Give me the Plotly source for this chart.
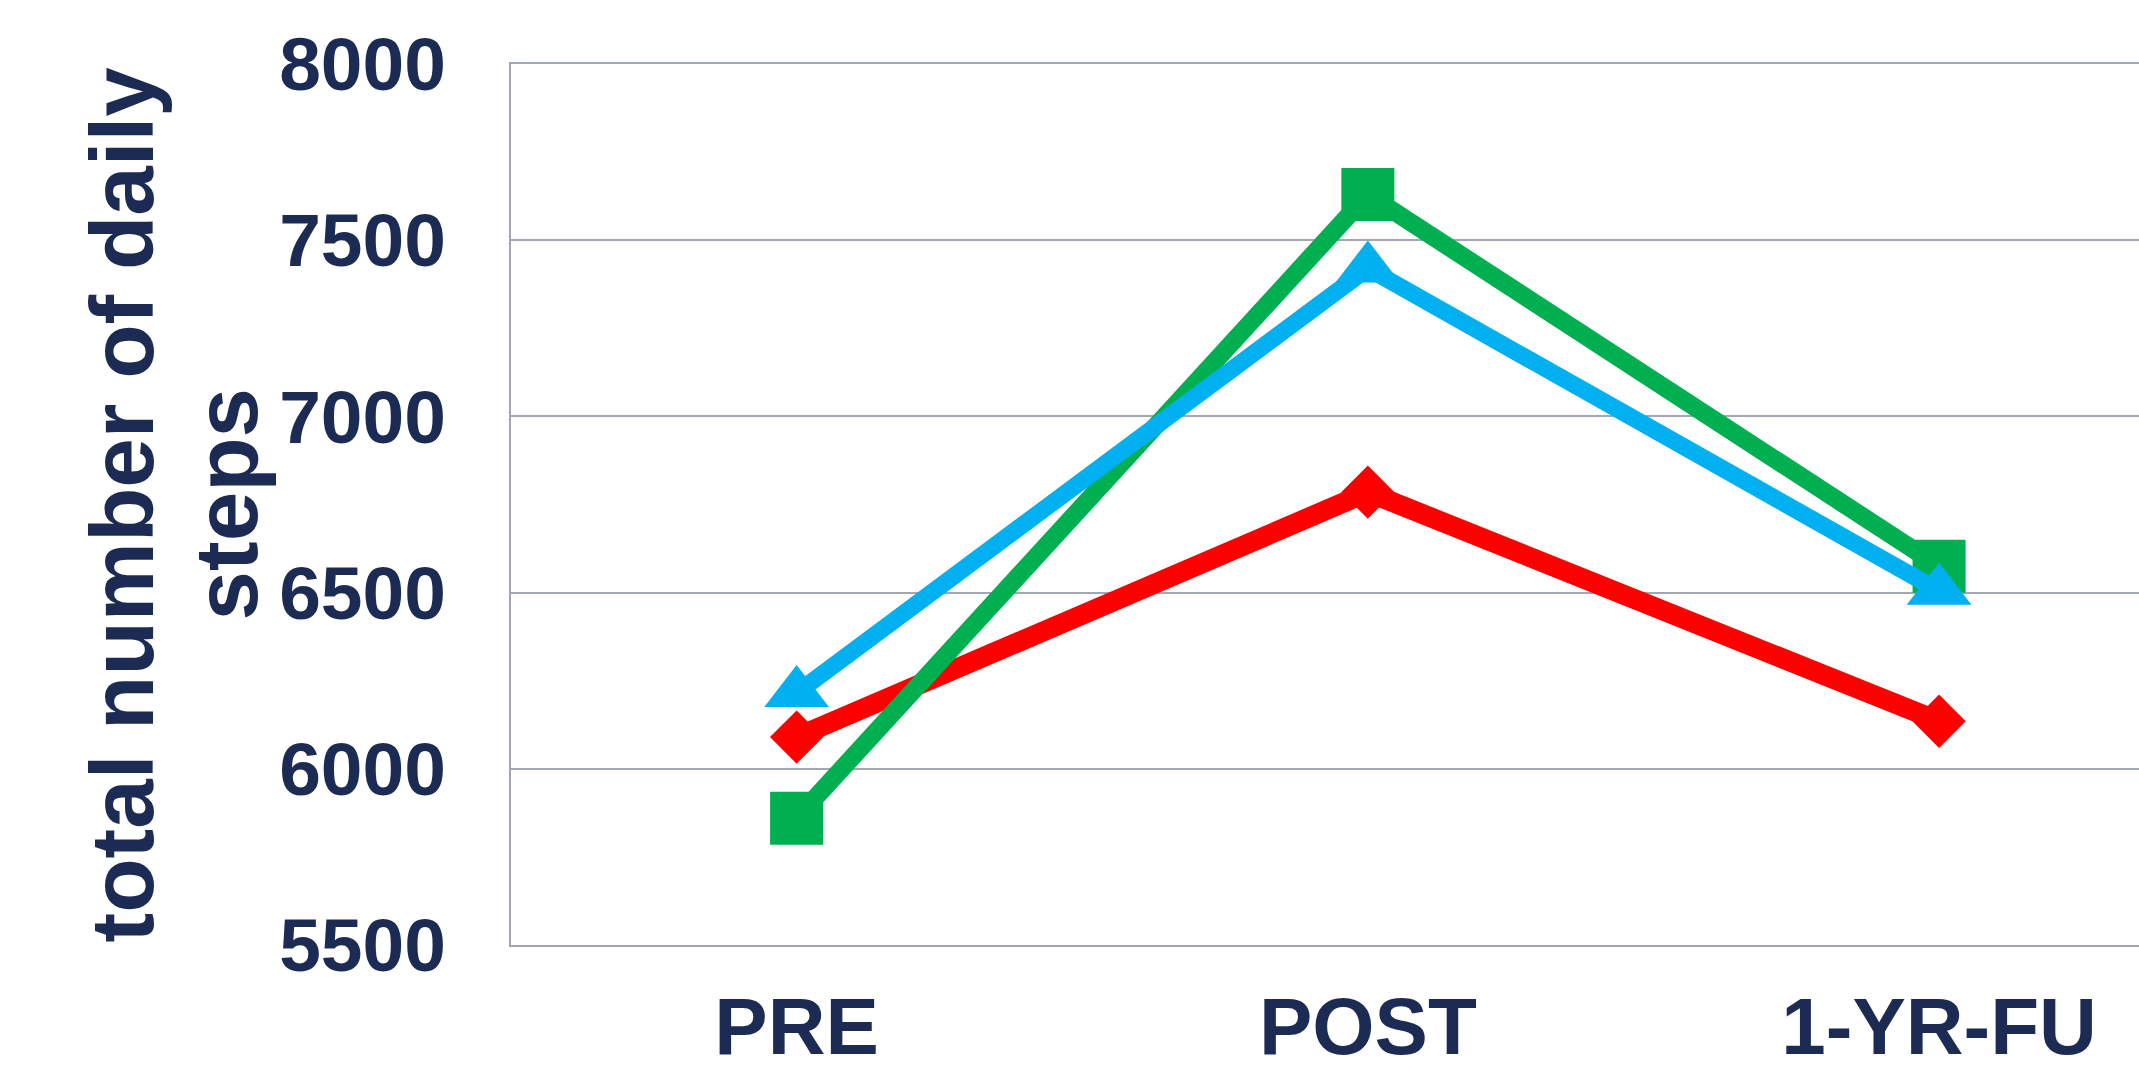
import plotly.graph_objects as go

categories = ["PRE", "POST", "1-YR-FU"]
red_values = [6090, 6785, 6135]
green_values = [5860, 7630, 6575]
blue_values = [6215, 7420, 6505]
y_ticks = [5500, 6000, 6500, 7000, 7500, 8000]
y_title_line1 = "total number of daily"
y_title_line2 = "steps"

NAVY = "#1c2b54"
GRID = "#a3a7b5"

fig = go.Figure()
fig.add_trace(go.Scatter(x=categories, y=red_values, mode="lines+markers",
                         line=dict(color="#ff0000", width=20),
                         marker=dict(symbol="diamond", size=41, color="#ff0000", line=dict(width=0))))
fig.add_trace(go.Scatter(x=categories, y=green_values, mode="lines+markers",
                         line=dict(color="#00b050", width=18),
                         marker=dict(symbol="square", size=53, color="#00b050", line=dict(width=0))))
fig.add_trace(go.Scatter(x=categories, y=blue_values, mode="lines+markers",
                         line=dict(color="#00b0f0", width=17),
                         marker=dict(symbol="triangle-up", size=56, color="#00b0f0", line=dict(width=0))))

fig.update_layout(
    width=2139, height=1077,
    margin=dict(l=511, r=0, t=64, b=132),
    paper_bgcolor="white", plot_bgcolor="white",
    showlegend=False,
    font=dict(family="Liberation Sans, Arial, sans-serif", color=NAVY),
    xaxis=dict(type="category", range=[-0.5, 2.35], showgrid=False, automargin=False,
               showline=True, mirror=True, linecolor=GRID, linewidth=2, zeroline=False,
               ticks="", ticklabelstandoff=11,
               tickfont=dict(size=80, family="Liberation Sans, Arial", weight="bold", color=NAVY)),
    yaxis=dict(range=[5500, 8000], tickvals=y_ticks, showgrid=True, automargin=False,
               gridcolor=GRID, gridwidth=2, zeroline=False,
               showline=True, linecolor=GRID, linewidth=2,
               ticks="", ticklabelstandoff=48,
               tickfont=dict(size=75, family="Liberation Sans, Arial", weight="bold", color=NAVY)),
    annotations=[
        dict(text=y_title_line1, xref="paper", yref="paper", x=0, y=0.5,
             xanchor="center", yanchor="middle", xshift=-390, textangle=-90, showarrow=False,
             font=dict(size=89, family="Liberation Sans, Arial", weight="bold", color=NAVY)),
        dict(text=y_title_line2, xref="paper", yref="paper", x=0, y=0.5,
             xanchor="center", yanchor="middle", xshift=-286, textangle=-90, showarrow=False,
             font=dict(size=89, family="Liberation Sans, Arial", weight="bold", color=NAVY)),
    ],
)

fig.write_html("out.html")
